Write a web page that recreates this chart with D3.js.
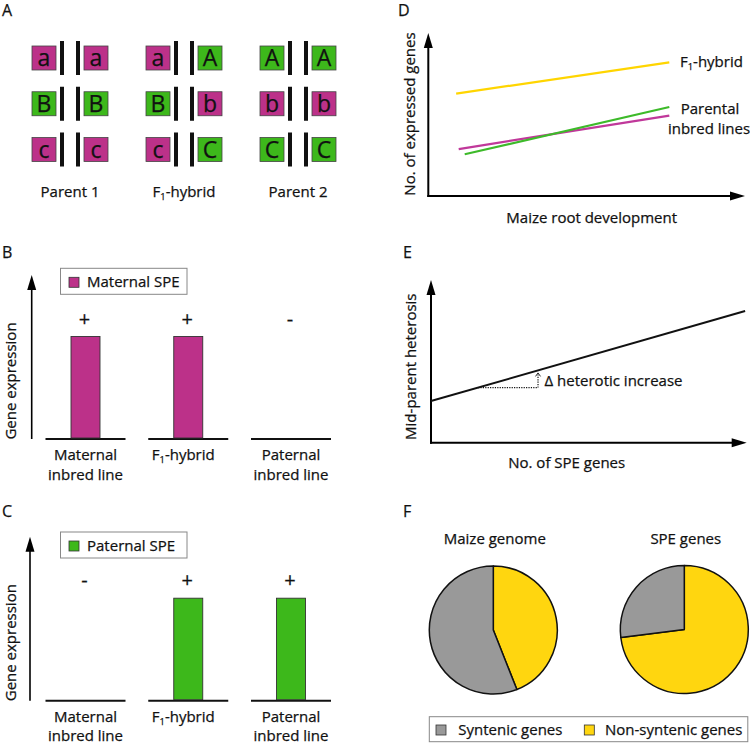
<!DOCTYPE html>
<html>
<head>
<meta charset="utf-8">
<script src="https://cdn.jsdelivr.net/npm/d3@7"></script>
<style>
  html, body { margin: 0; padding: 0; background: #fff; }
  svg { display: block; font-family: "Open Sans", "Noto Sans", sans-serif; }
  svg text { stroke: #111; stroke-width: 0.25px; }
</style>
</head>
<body>
<div id="chart"></div>
<script>
// ---------------- DATA ----------------
// Panel A: genotypes
const genotypeGroups = ["Parent 1", "F1-hybrid", "Parent 2"];
const geneRows = ["A", "B", "C"];
const alleleLeft  = [["a", "B", "c"], ["a", "B", "c"], ["A", "b", "C"]];
const alleleRight = [["a", "B", "c"], ["A", "b", "C"], ["A", "b", "C"]];

// Panels B & C: single-parent expression
const speCategories = ["Maternal inbred line", "F1-hybrid", "Paternal inbred line"];
const maternalSPE = [1, 1, 0];
const paternalSPE = [0, 1, 1];

// Panel D: expressed genes over root development
const dSeriesNames = ["F1-hybrid", "Maternal", "Paternal"];
const rootDevelopment = [[0.88, 7.61], [0.96, 7.61], [1.15, 7.61]];
const expressedGenes  = [[6.28, 8.2], [2.88, 4.93], [2.56, 5.46]];

// Panel E: heterosis vs SPE genes
const speGeneCount = [0, 9.95];
const midParentHeterosis = [2.56, 8.09];
const heteroticStep = [1.49, 3.39];

// Panel F: pies
const pieCategories = ["Non-syntenic genes", "Syntenic genes"];
const maizeGenomeShare = [44, 56];
const speGenesShare = [73, 27];

// ---------------- STYLE ----------------
const MAGENTA = "#bc3189";
const GREEN = "#3db81b";
const YELLOW = "#ffd60f";
const GRAY = "#999999";
const LINE_MAGENTA = "#c0389a";
const LINE_GREEN = "#3dba2a";
const LINE_YELLOW = "#ffd500";
const FONT = 15;

const W = 750, H = 743;
const svg = d3.select("#chart").append("svg").attr("width", W).attr("height", H);

function panelLabel(t, x, y) {
  svg.append("text").attr("x", x).attr("y", y).attr("font-size", 16).attr("fill", "#111").text(t);
}
function f1Text(sel) {
  sel.append("tspan").text("F");
  sel.append("tspan").attr("font-size", FONT * 0.62).attr("dy", 3).text("1");
  sel.append("tspan").attr("dy", -3).text("-hybrid");
}
function arrowUp(g, x, yBottom, yTip, w) {
  g.append("line").attr("x1", x).attr("x2", x).attr("y1", yBottom).attr("y2", yTip + 10)
    .attr("stroke", "#000").attr("stroke-width", w);
  g.append("path").attr("d", `M${x},${yTip} L${x - 4.5},${yTip + 15} L${x + 4.5},${yTip + 15} Z`).attr("fill", "#000");
}
function arrowRight(g, xLeft, xTip, y, w) {
  g.append("line").attr("x1", xLeft).attr("x2", xTip - 10).attr("y1", y).attr("y2", y)
    .attr("stroke", "#000").attr("stroke-width", w);
  g.append("path").attr("d", `M${xTip},${y} L${xTip - 15},${y - 4.5} L${xTip - 15},${y + 4.5} Z`).attr("fill", "#000");
}

// ---------------- PANEL A ----------------
panelLabel("A", 2, 15.5);
{
  const gx = d3.scalePoint().domain(genotypeGroups).range([70, 298]);
  const gy = d3.scalePoint().domain(geneRows).range([58, 149.5]);
  const g = svg.append("g");
  genotypeGroups.forEach((grp, gi) => {
    const cx = gx(grp);
    geneRows.forEach((row, ri) => {
      const cy = gy(row);
      [[alleleLeft[gi][ri], cx - 26], [alleleRight[gi][ri], cx + 26]].forEach(([al, sx]) => {
        const isRecessive = al === al.toLowerCase();
        g.append("rect").attr("x", sx - 12).attr("y", cy - 12).attr("width", 24).attr("height", 24)
          .attr("fill", isRecessive ? MAGENTA : GREEN).attr("stroke", "#444").attr("stroke-width", 0.8);
        g.append("text").attr("x", sx).attr("y", cy + 8).attr("text-anchor", "middle")
          .attr("font-size", 23).attr("fill", "#111").text(al);
      });
      [-8, 8].forEach(dx => {
        g.append("rect").attr("x", cx + dx - 2).attr("y", cy - 17).attr("width", 4).attr("height", 34).attr("fill", "#111");
      });
    });
    const t = g.append("text").attr("x", cx).attr("y", 197).attr("text-anchor", "middle").attr("font-size", FONT).attr("fill", "#111");
    if (grp === "F1-hybrid") f1Text(t); else t.text(grp);
  });
}

// ---------------- PANELS B & C ----------------
function barPanel(letter, labelY, values, color, legendText, o) {
  panelLabel(letter, 2, labelY);
  const g = svg.append("g");
  const x = d3.scalePoint().domain(speCategories).range([85.5, 291]);
  const y = d3.scaleLinear().domain([0, 1.6]).range([o.base, o.base - 164]);
  arrowUp(g, o.axisX, o.base, o.base - 164, 1.6);
  // baselines
  g.selectAll(".seg").data(speCategories).enter().append("line")
    .attr("x1", d => x(d) - 40).attr("x2", d => x(d) + 40)
    .attr("y1", o.base).attr("y2", o.base).attr("stroke", "#111").attr("stroke-width", 2);
  // bars
  g.selectAll(".bar").data(values.map((v, i) => ({ v, c: speCategories[i] })).filter(d => d.v > 0)).enter().append("rect")
    .attr("x", d => x(d.c) - 14.5).attr("width", 29)
    .attr("y", d => y(d.v)).attr("height", d => y(0) - y(d.v) - 1)
    .attr("fill", color).attr("stroke", "#333").attr("stroke-width", 0.9);
  // +/- signs
  g.selectAll(".sign").data(values).enter().append("text")
    .attr("x", (d, i) => x(speCategories[i]) - 1).attr("y", y(1) - 11)
    .attr("text-anchor", "middle").attr("font-size", 20).attr("fill", "#111")
    .text(d => d > 0 ? "+" : "-");
  // category labels
  speCategories.forEach(c => {
    if (c === "F1-hybrid") {
      const t = g.append("text").attr("x", x(c) - 5).attr("y", o.base + 21).attr("text-anchor", "middle").attr("font-size", FONT).attr("fill", "#111");
      f1Text(t);
    } else {
      const parts = c.split(" ");
      g.append("text").attr("x", x(c)).attr("y", o.base + 21).attr("text-anchor", "middle").attr("font-size", FONT).attr("fill", "#111").text(parts[0]);
      g.append("text").attr("x", x(c)).attr("y", Math.min(o.base + 41, 740.5)).attr("text-anchor", "middle").attr("font-size", FONT).attr("fill", "#111").text(parts.slice(1).join(" "));
    }
  });
  // y label
  g.append("text").attr("transform", `translate(16,${o.base - 58}) rotate(-90)`).attr("text-anchor", "middle")
    .attr("font-size", FONT).attr("fill", "#111").text("Gene expression");
  // legend
  g.append("rect").attr("x", 60.5).attr("y", o.legY).attr("width", 126.5).attr("height", 26)
    .attr("fill", "#fff").attr("stroke", "#888").attr("stroke-width", 1);
  g.append("rect").attr("x", 69).attr("y", o.legY + 9).attr("width", 10).attr("height", 10)
    .attr("fill", color).attr("stroke", "#333").attr("stroke-width", 0.8);
  g.append("text").attr("x", 87).attr("y", o.legY + 19).attr("font-size", FONT).attr("fill", "#111").text(legendText);
}
barPanel("B", 258, maternalSPE, MAGENTA, "Maternal SPE", { base: 439, axisX: 31.7, legY: 268.3 });
barPanel("C", 517, paternalSPE, GREEN, "Paternal SPE", { base: 700.7, axisX: 30, legY: 532 });

// ---------------- PANEL D ----------------
panelLabel("D", 398, 15.5);
{
  const g = svg.append("g");
  const x = d3.scaleLinear().domain([0, 10]).range([428.3, 745]);
  const y = d3.scaleLinear().domain([0, 10]).range([196, 33]);
  arrowUp(g, x(0), y(0) + 1, y(10), 2);
  arrowRight(g, x(0) - 1, x(10), y(0), 2);
  const colors = [LINE_YELLOW, LINE_MAGENTA, LINE_GREEN];
  const line = d3.line().x(d => x(d[0])).y(d => y(d[1]));
  dSeriesNames.forEach((n, i) => {
    const pts = rootDevelopment[i].map((xv, j) => [xv, expressedGenes[i][j]]);
    g.append("path").attr("d", line(pts)).attr("fill", "none").attr("stroke", colors[i]).attr("stroke-width", 2.2);
  });
  const t = g.append("text").attr("x", 680).attr("y", 67).attr("font-size", FONT).attr("fill", "#111");
  f1Text(t);
  g.append("text").attr("x", 710).attr("y", 114).attr("text-anchor", "middle").attr("font-size", FONT).attr("fill", "#111").text("Parental");
  g.append("text").attr("x", 709).attr("y", 133.5).attr("text-anchor", "middle").attr("font-size", FONT).attr("fill", "#111").text("inbred lines");
  g.append("text").attr("transform", `translate(415,114) rotate(-90)`).attr("text-anchor", "middle")
    .attr("font-size", FONT).attr("fill", "#111").text("No. of expressed genes");
  g.append("text").attr("x", 591.7).attr("y", 223).attr("text-anchor", "middle").attr("font-size", FONT).attr("fill", "#111").text("Maize root development");
}

// ---------------- PANEL E ----------------
panelLabel("E", 403, 258);
{
  const g = svg.append("g");
  const x = d3.scaleLinear().domain([0, 10]).range([431, 746.7]);
  const y = d3.scaleLinear().domain([0, 10]).range([442.7, 280]);
  arrowUp(g, x(0), y(0) + 1, y(10), 2);
  arrowRight(g, x(0) - 1, x(10), y(0), 2);
  const line = d3.line().x(d => x(d[0])).y(d => y(d[1]));
  g.append("path").attr("d", line(speGeneCount.map((v, i) => [v, midParentHeterosis[i]])))
    .attr("fill", "none").attr("stroke", "#111").attr("stroke-width", 2);
  const slope = (midParentHeterosis[1] - midParentHeterosis[0]) / (speGeneCount[1] - speGeneCount[0]);
  const yAt = xv => midParentHeterosis[0] + slope * (xv - speGeneCount[0]);
  const y0 = yAt(heteroticStep[0]);
  const y1 = yAt(heteroticStep[1]);
  g.append("line").attr("x1", x(heteroticStep[0])).attr("x2", x(heteroticStep[1]))
    .attr("y1", y(y0)).attr("y2", y(y0)).attr("stroke", "#111").attr("stroke-width", 1.2).attr("stroke-dasharray", "1.2,1.2");
  g.append("line").attr("x1", x(heteroticStep[1])).attr("x2", x(heteroticStep[1]))
    .attr("y1", y(y0)).attr("y2", y(y1) + 3).attr("stroke", "#111").attr("stroke-width", 1.2).attr("stroke-dasharray", "1.2,1.2");
  g.append("path").attr("d", `M${x(heteroticStep[1]) - 2.5},${y(y1) + 6} L${x(heteroticStep[1])},${y(y1) + 2.5} L${x(heteroticStep[1]) + 2.5},${y(y1) + 6}`)
    .attr("fill", "none").attr("stroke", "#111").attr("stroke-width", 0.9);
  g.append("text").attr("x", 544.5).attr("y", 385.5).attr("font-size", FONT).attr("fill", "#111").text("Δ heterotic increase");
  g.append("text").attr("transform", `translate(416,366.7) rotate(-90)`).attr("text-anchor", "middle")
    .attr("font-size", FONT).attr("fill", "#111").text("Mid-parent heterosis");
  g.append("text").attr("x", 566.7).attr("y", 468).attr("text-anchor", "middle").attr("font-size", FONT).attr("fill", "#111").text("No. of SPE genes");
}

// ---------------- PANEL F ----------------
panelLabel("F", 403, 517);
{
  const g = svg.append("g");
  const color = d3.scaleOrdinal().domain(pieCategories).range([YELLOW, GRAY]);
  const pie = d3.pie().sort(null).value(d => d.v);
  const arc = d3.arc().innerRadius(0).outerRadius(64);
  const pies = [
    { title: "Maize genome", cx: 493.3, cy: 630, vals: maizeGenomeShare },
    { title: "SPE genes", cx: 684.3, cy: 629.5, vals: speGenesShare }
  ];
  pies.forEach(p => {
    const pg = g.append("g").attr("transform", `translate(${p.cx},${p.cy})`);
    pg.selectAll("path").data(pie(p.vals.map((v, i) => ({ v, c: pieCategories[i] })))).enter().append("path")
      .attr("d", arc).attr("fill", d => color(d.data.c)).attr("stroke", "#111").attr("stroke-width", 1.5).attr("stroke-linejoin", "round");
    g.append("text").attr("x", p.cx + 1.5).attr("y", 544).attr("text-anchor", "middle").attr("font-size", FONT).attr("fill", "#111").text(p.title);
  });
  // legend
  g.append("rect").attr("x", 429.3).attr("y", 716.7).attr("width", 318.5).attr("height", 25)
    .attr("fill", "#fff").attr("stroke", "#888").attr("stroke-width", 1);
  const legendItems = [["Syntenic genes", 436, 458.3], ["Non-syntenic genes", 584.3, 605]];
  legendItems.forEach(([name, sx, tx]) => {
    g.append("rect").attr("x", sx).attr("y", 725).attr("width", 10).attr("height", 10)
      .attr("fill", color(name)).attr("stroke", "#333").attr("stroke-width", 0.8);
    g.append("text").attr("x", tx).attr("y", 735).attr("font-size", FONT).attr("fill", "#111").text(name);
  });
}
</script>
</body>
</html>
